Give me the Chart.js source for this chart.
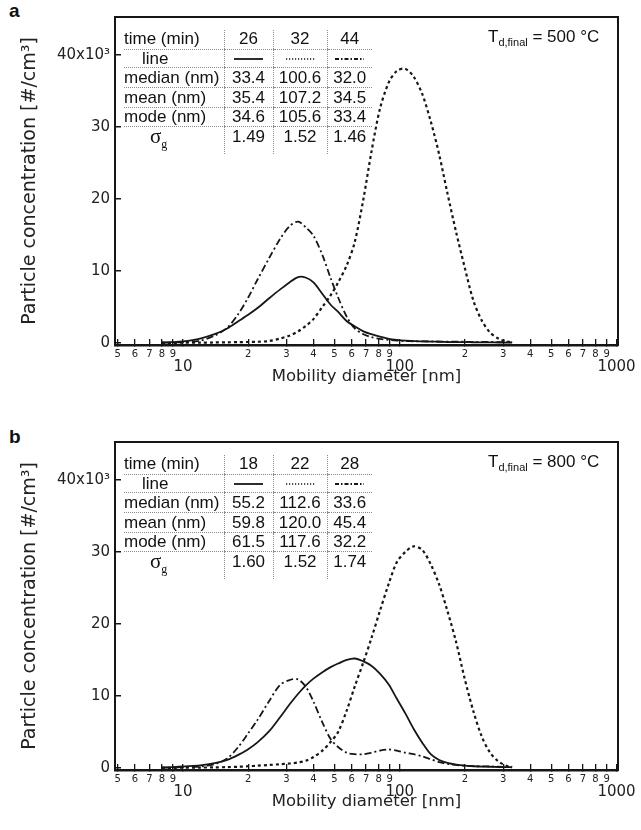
<!DOCTYPE html>
<html>
<head>
<meta charset="utf-8">
<script src="https://cdn.jsdelivr.net/npm/chart.js@4.4.1/dist/chart.umd.min.js"></script>
<style>
body { margin:0; background:#fff; width:641px; height:830px; position:relative; overflow:hidden; font-family:"Liberation Sans", Arial, sans-serif; color:#111; }
.panel { position:absolute; left:0; width:641px; height:395px; }
.tag { position:absolute; left:9px; font-weight:bold; font-size:19px; line-height:19px; }
.stats { position:absolute; left:124px; border-collapse:collapse; font-size:17px; table-layout:fixed; }
.stats td { padding:0; text-align:center; white-space:nowrap; border-bottom:1px dotted #8a8a8a; box-sizing:border-box; }
.stats td:first-child { text-align:left; }
.stats td + td { border-left:1px dotted #8a8a8a; }
.stats tr:last-child td { border-bottom:none; vertical-align:top; }
.sig { font-family:"Liberation Serif", serif; font-size:21px; padding-left:26px; }
.sig sub { font-size:12px; }
.temp { position:absolute; left:488px; font-size:17px; line-height:20px; }
.temp sub { font-size:11px; }
</style>
</head>
<body>
<div class="tag" style="top:1px">a</div>
<canvas id="chartA" class="panel" width="641" height="395" style="top:0"></canvas>
<table id="statsA" class="stats" style="top:30px"></table>
<div class="temp" style="top:27px">T<sub>d,final</sub> = 500 °C</div>

<div class="tag" style="top:427px">b</div>
<canvas id="chartB" class="panel" width="641" height="395" style="top:425px"></canvas>
<table id="statsB" class="stats" style="top:455px"></table>
<div class="temp" style="top:452px">T<sub>d,final</sub> = 800 °C</div>

<script>
// mobility diameter grid (nm) shared by all curves
const sizeNm = [8, 9, 10, 12, 14, 16, 18, 20, 22, 25, 28, 31, 34, 37, 40, 44, 48, 52, 57, 62,
  68, 74, 81, 89, 97, 106, 116, 127, 139, 152, 166, 182, 199, 218, 238, 260, 285, 310, 330];

// panel a, Td,final = 500 C  (x10^3 #/cm3)
const a26min = [0.05, 0.1, 0.2, 0.6, 1.2, 2.0, 3.0, 3.9, 4.8, 6.2, 7.4, 8.4, 9.15, 9.05, 8.4, 6.8, 5.3, 4.3, 3.0, 2.3,
  1.6, 1.2, 0.85, 0.55, 0.4, 0.3, 0.25, 0.2, 0.18, 0.15, 0.12, 0.1, 0.1, 0.08, 0.07, 0.06, 0.05, 0.04, 0.03];
const a32min = [0, 0, 0.02, 0.03, 0.05, 0.07, 0.1, 0.12, 0.15, 0.25, 0.6, 1.0, 1.6, 2.4, 3.3, 5.0, 6.6, 8.4, 10.8, 14.0,
  20.0, 26.5, 32.5, 36.2, 37.8, 38.1, 37.0, 34.6, 30.8, 26.2, 20.8, 15.4, 10.6, 6.0, 3.2, 1.5, 0.6, 0.2, 0.05];
const a44min = [0.02, 0.05, 0.1, 0.3, 1.0, 2.1, 4.0, 6.3, 8.7, 11.8, 14.4, 16.2, 16.85, 16.0, 14.9, 12.2, 9.0, 6.3, 3.6, 2.0,
  1.2, 0.8, 0.55, 0.4, 0.3, 0.25, 0.22, 0.2, 0.2, 0.18, 0.17, 0.16, 0.15, 0.14, 0.13, 0.12, 0.11, 0.1, 0.1];

// panel b, Td,final = 800 C
const b18min = [0.05, 0.1, 0.2, 0.35, 0.65, 1.1, 1.8, 2.6, 3.5, 5.1, 7.0, 8.8, 10.3, 11.5, 12.4, 13.3, 14.0, 14.5, 15.0, 15.2,
  14.8, 14.2, 13.1, 11.6, 9.6, 7.6, 5.4, 3.5, 1.9, 1.1, 0.7, 0.45, 0.3, 0.22, 0.18, 0.15, 0.12, 0.1, 0.08];
const b22min = [0, 0, 0.02, 0.04, 0.06, 0.1, 0.15, 0.22, 0.3, 0.4, 0.5, 0.6, 0.75, 1.0, 1.5, 2.4, 3.6, 5.0, 8.0, 11.3,
  14.7, 18.0, 21.8, 25.6, 28.6, 30.0, 30.8, 30.3, 28.3, 25.5, 21.8, 17.5, 12.5, 8.0, 4.5, 2.2, 0.9, 0.3, 0.1];
const b28min = [0.02, 0.05, 0.1, 0.2, 0.5, 1.3, 2.9, 4.8, 6.6, 9.3, 11.5, 12.2, 12.3, 11.2, 9.2, 6.3, 4.0, 2.9, 2.1, 1.9,
  1.9, 2.1, 2.4, 2.55, 2.4, 2.1, 1.9, 1.6, 1.2, 0.8, 0.55, 0.4, 0.3, 0.25, 0.2, 0.2, 0.15, 0.12, 0.1];

// table values
const timesA = ['26', '32', '44'];
const medianA = ['33.4', '100.6', '32.0'];
const meanA = ['35.4', '107.2', '34.5'];
const modeA = ['34.6', '105.6', '33.4'];
const sigmaA = ['1.49', '1.52', '1.46'];

const timesB = ['18', '22', '28'];
const medianB = ['55.2', '112.6', '33.6'];
const meanB = ['59.8', '120.0', '45.4'];
const modeB = ['61.5', '117.6', '32.2'];
const sigmaB = ['1.60', '1.52', '1.74'];

// axes
const yTickValues = [0, 10, 20, 30, 40];
const yTickLabels = ['0', '10', '20', '30', '40x10³'];
const xTickValues = [5, 6, 7, 8, 9, 10, 20, 30, 40, 50, 60, 70, 80, 90, 100, 200, 300, 400, 500, 600, 700, 800, 900, 1000];
const xTickLabels = ['5', '6', '7', '8', '9', ['', '10'], '2', '3', '4', '5', '6', '7', '8', '9', ['', '100'],
  '2', '3', '4', '5', '6', '7', '8', '9', ['', '1000']];

const ink = '#161616';
const styles = [
  { dash: [], width: 1.8 },
  { dash: [3, 3], width: 2.2 },
  { dash: [7, 3, 2, 3], width: 1.8 }
];
const sampleDash = ['', '1.2 1.8', '4 2 1.5 2'];

const framePlugin = {
  id: 'frame',
  afterDraw(chart) {
    const { ctx, chartArea: a } = chart;
    ctx.save();
    ctx.strokeStyle = ink;
    ctx.lineWidth = 2;
    ctx.strokeRect(a.left, a.top, a.right - a.left, a.bottom - a.top);
    ctx.restore();
  }
};

function makeChart(id, series) {
  const datasets = series.map((vals, i) => ({
    data: sizeNm.map((d, k) => ({ x: d, y: vals[k] })),
    borderColor: ink,
    borderWidth: styles[i].width,
    borderDash: styles[i].dash,
    pointRadius: 0,
    tension: 0.3,
    fill: false
  }));

  new Chart(document.getElementById(id), {
    type: 'line',
    data: { datasets: datasets },
    plugins: [framePlugin],
    options: {
      responsive: false,
      animation: false,
      events: [],
      layout: { padding: { top: 17, right: 23, left: 0, bottom: 0 } },
      plugins: { legend: { display: false }, tooltip: { enabled: false } },
      scales: {
        x: {
          type: 'logarithmic',
          min: 4.86,
          max: 1016,
          afterBuildTicks: s => { s.ticks = xTickValues.map(v => ({ value: v })); },
          afterFit: s => { s.height = 50; s.paddingLeft = 0; s.paddingRight = 0; },
          border: { display: true, color: ink, width: 2.5 },
          grid: { drawOnChartArea: false, drawTicks: true, tickLength: -6, color: ink, lineWidth: 1.3 },
          ticks: {
            autoSkip: false,
            maxRotation: 0,
            padding: 9,
            color: '#222',
            font: c => (Array.isArray(xTickLabels[c.index])
              ? { family: 'DejaVu Sans', size: 15, lineHeight: 0.85 }
              : { family: 'DejaVu Sans', size: 10, lineHeight: 1.2 }),
            callback: (v, i) => xTickLabels[i]
          },
          title: {
            display: true,
            text: 'Mobility diameter [nm]',
            color: '#222',
            font: { family: 'DejaVu Sans', size: 16.5 },
            padding: { top: 0, bottom: 8 }
          }
        },
        y: {
          min: -0.3,
          max: 45.3,
          afterBuildTicks: s => { s.ticks = yTickValues.map(v => ({ value: v })); },
          afterFit: s => { s.width = 115; s.paddingTop = 0; s.paddingBottom = 0; },
          border: { display: true, color: ink, width: 2 },
          grid: { drawOnChartArea: false, drawTicks: true, tickLength: -6, color: ink, lineWidth: 1.5 },
          ticks: {
            padding: 11,
            color: '#222',
            font: { family: 'DejaVu Sans', size: 15 },
            callback: (v, i) => yTickLabels[i]
          },
          title: {
            display: true,
            text: 'Particle concentration [#/cm³]',
            color: '#222',
            font: { family: 'DejaVu Sans', size: 19 },
            padding: { top: 19, bottom: 0 }
          }
        }
      }
    }
  });
}

function makeTable(id, times, median, mean, mode, sigma) {
  const heights = [19, 18, 20, 20, 19, 24];
  const widths = [100, 49, 54, 45];
  const samples = sampleDash.map(d =>
    '<svg width="29" height="4" style="vertical-align:middle"><line x1="0" y1="2" x2="29" y2="2" stroke="' + ink +
    '" stroke-width="' + (d === '1.2 1.8' ? 1.3 : 1.8) + '"' + (d ? ' stroke-dasharray="' + d + '"' : '') + '/></svg>');
  const rows = [
    ['time (min)'].concat(times),
    ['<span style="padding-left:18px">line</span>'].concat(samples),
    ['median (nm)'].concat(median),
    ['mean (nm)'].concat(mean),
    ['mode (nm)'].concat(mode),
    ['<span class="sig">σ<sub>g</sub></span>'].concat(sigma)
  ];
  let html = '<colgroup>' + widths.map(w => '<col style="width:' + w + 'px">').join('') + '</colgroup>';
  rows.forEach((r, ri) => {
    html += '<tr style="height:' + heights[ri] + 'px">';
    r.forEach(cell => {
      html += '<td style="height:' + heights[ri] + 'px;line-height:' + (ri === 5 ? 19 : heights[ri] - 1) + 'px">' + cell + '</td>';
    });
    html += '</tr>';
  });
  const t = document.getElementById(id);
  t.style.width = widths.reduce((s, w) => s + w, 0) + 'px';
  t.innerHTML = html;
}

makeChart('chartA', [a26min, a32min, a44min]);
makeChart('chartB', [b18min, b22min, b28min]);
makeTable('statsA', timesA, medianA, meanA, modeA, sigmaA);
makeTable('statsB', timesB, medianB, meanB, modeB, sigmaB);
</script>
</body>
</html>
